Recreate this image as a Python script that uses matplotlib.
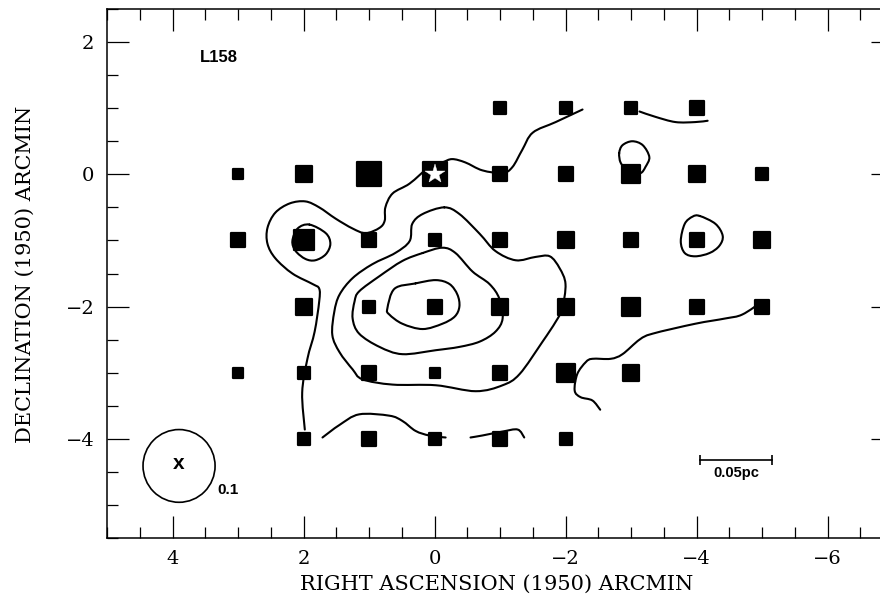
import matplotlib
matplotlib.use("Agg")
import matplotlib.pyplot as plt
from matplotlib.markers import MarkerStyle
from matplotlib.patches import Circle, PathPatch
from matplotlib.path import Path
from matplotlib.ticker import MultipleLocator

# ---------------- data ----------------
# observed positions (RA offset, Dec offset in arcmin) and relative strength (marker size)
ra_obs = [-1, -2, -3, -4,
          3, 2, 1, 0, -1, -2, -3, -4, -5,
          3, 2, 1, 0, -1, -2, -3, -4, -5,
          2, 1, 0, -1, -2, -3, -4, -5,
          3, 2, 1, 0, -1, -2, -3,
          2, 1, 0, -1, -2]
dec_obs = [1, 1, 1, 1,
           0, 0, 0, 0, 0, 0, 0, 0, 0,
           -1, -1, -1, -1, -1, -1, -1, -1, -1,
           -2, -2, -2, -2, -2, -2, -2, -2,
           -3, -3, -3, -3, -3, -3, -3,
           -4, -4, -4, -4, -4]
strength = [12, 13, 12, 14,
            11, 17, 24, 24, 15, 14, 19, 16, 13,
            15, 20, 15, 12, 15, 16, 15, 15, 17,
            17, 12, 14, 16, 17, 19, 14, 15,
            11, 13, 15, 11, 15, 19, 17,
            13, 15, 13, 15, 12]

star_ra, star_dec = [0.0], [0.0]

# contour polylines (RA, Dec)
contour_a_ra = [-2.26, -1.85, -1.50, -1.34, -1.19, -1.04, -0.73, -0.47, -0.27, -0.12, 0.08, 0.38, 0.64,
                0.75, 0.76, 0.84, 1.05, 1.25, 1.51, 1.76, 1.97, 2.21, 2.43, 2.55, 2.55, 2.43, 2.17,
                1.86, 1.76, 1.76, 1.83, 1.94, 2.02, 1.98]
contour_a_dec = [0.98, 0.79, 0.63, 0.37, 0.11, 0.02, 0.06, 0.18, 0.23, 0.18, 0.11, -0.14, -0.29,
                 -0.50, -0.70, -0.81, -0.89, -0.82, -0.67, -0.50, -0.41, -0.44, -0.58, -0.81, -1.05,
                 -1.27, -1.50, -1.66, -1.73, -1.92, -2.38, -2.79, -3.30, -3.86]
contour_b_ra = [1.91, 1.66, 1.59, 1.66, 1.82, 1.97, 2.12, 2.17, 2.09, 1.91]
contour_b_dec = [-0.76, -0.89, -1.05, -1.21, -1.30, -1.28, -1.16, -1.01, -0.82, -0.76]
contour_c_ra = [-0.15, -0.38, -0.69, -0.93, -1.24, -1.54, -1.76, -1.91, -2.00, -1.95, -1.85, -1.65,
                -1.30, -1.04, -0.63, -0.02, 0.64, 1.10, 1.25, 1.45, 1.56, 1.53, 1.45, 1.25, 0.95,
                0.60, 0.38, 0.34, 0.18, -0.15]
contour_c_dec = [-0.50, -0.60, -0.90, -1.16, -1.30, -1.25, -1.24, -1.42, -1.66, -2.03, -2.23, -2.53,
                 -3.02, -3.19, -3.28, -3.19, -3.18, -3.10, -2.95, -2.69, -2.43, -2.08, -1.82, -1.57,
                 -1.36, -1.19, -1.01, -0.75, -0.60, -0.50]
contour_d_ra = [0.18, -0.12, -0.32, -0.58, -0.84, -0.99, -1.04, -0.93, -0.69, -0.38, -0.02, 0.49,
                0.84, 1.15, 1.25, 1.22, 1.15, 0.84, 0.49, 0.18]
contour_d_dec = [-1.19, -1.11, -1.19, -1.47, -1.66, -1.88, -2.18, -2.38, -2.53, -2.61, -2.66, -2.72,
                 -2.61, -2.41, -2.18, -1.92, -1.77, -1.54, -1.31, -1.19]
contour_e_ra = [0.29, -0.02, -0.23, -0.35, -0.38, -0.31, -0.12, 0.18, 0.49, 0.69, 0.72, 0.61, 0.29]
contour_e_dec = [-1.65, -1.60, -1.66, -1.82, -2.00, -2.15, -2.26, -2.34, -2.26, -2.12, -2.03, -1.73, -1.65]
contour_f_ra = [-2.82, -2.87, -3.02, -3.18, -3.28, -3.22, -3.15, -3.03, -2.92, -2.84, -2.82]
contour_f_dec = [0.32, 0.44, 0.50, 0.44, 0.26, 0.11, 0.02, 0.03, 0.09, 0.18, 0.32]
contour_g_ra = [-3.13, -3.37, -3.68, -3.98, -4.17]
contour_g_dec = [0.95, 0.87, 0.79, 0.79, 0.81]
contour_h_ra = [-4.05, -4.29, -4.40, -4.35, -4.20, -3.98, -3.82, -3.76, -3.82, -3.94, -4.05]
contour_h_dec = [-0.63, -0.75, -0.93, -1.08, -1.19, -1.24, -1.19, -1.01, -0.75, -0.64, -0.63]
contour_i_ra = [-5.01, -4.70, -4.44, -3.98, -3.33, -3.13, -2.87, -2.69, -2.41, -2.31, -2.18, -2.14,
                -2.23, -2.41, -2.53]
contour_i_dec = [-1.92, -2.12, -2.18, -2.26, -2.41, -2.50, -2.72, -2.79, -2.79, -2.84, -3.02, -3.27,
                 -3.37, -3.42, -3.56]
contour_j_ra = [1.71, 1.45, 1.15, 0.69, 0.49, 0.29, 0.08, -0.17]
contour_j_dec = [-3.98, -3.79, -3.63, -3.65, -3.73, -3.88, -3.95, -3.98]
contour_k_ra = [-0.55, -0.73, -1.04, -1.27, -1.37]
contour_k_dec = [-3.98, -3.95, -3.89, -3.86, -3.98]

contours = [(contour_a_ra, contour_a_dec), (contour_b_ra, contour_b_dec),
            (contour_c_ra, contour_c_dec), (contour_d_ra, contour_d_dec),
            (contour_e_ra, contour_e_dec), (contour_f_ra, contour_f_dec),
            (contour_g_ra, contour_g_dec), (contour_h_ra, contour_h_dec),
            (contour_i_ra, contour_i_dec), (contour_j_ra, contour_j_dec),
            (contour_k_ra, contour_k_dec)]

beam_center = (3.9, -4.41)
beam_radius = 0.55
beam_label = "0.1"
scalebar_ra = [-4.05, -5.16]
scalebar_dec = -4.32
scalebar_label = "0.05pc"
source_name = "L158"

xticks = [4, 2, 0, -2, -4, -6]
yticks = [2, 0, -2, -4]

# ---------------- figure ----------------
DPI = 100
fig = plt.figure(figsize=(8.8, 5.95), dpi=DPI)
ax = fig.add_axes([107 / 880, 57 / 595, 786 / 880, 529 / 595])
ax.set_xlim(5, -7)
ax.set_ylim(-5.5, 2.5)

serif = "DejaVu Serif"
sans = "Liberation Sans"


def smooth_path(xs, ys):
    """Catmull-Rom curve through the read points, drawn as Bezier path."""
    pts = list(zip(xs, ys))
    closed = pts[0] == pts[-1]
    n = len(pts)
    verts = [pts[0]]
    codes = [Path.MOVETO]
    for i in range(n - 1):
        p1, p2 = pts[i], pts[i + 1]
        if i > 0:
            p0 = pts[i - 1]
        else:
            p0 = pts[-2] if closed else p1
        if i + 2 < n:
            p3 = pts[i + 2]
        else:
            p3 = pts[1] if closed else p2
        c1 = (p1[0] + (p2[0] - p0[0]) / 6, p1[1] + (p2[1] - p0[1]) / 6)
        c2 = (p2[0] - (p3[0] - p1[0]) / 6, p2[1] - (p3[1] - p1[1]) / 6)
        verts += [c1, c2, p2]
        codes += [Path.CURVE4] * 3
    return Path(verts, codes)


for xs, ys in contours:
    ax.add_patch(PathPatch(smooth_path(xs, ys), facecolor="none", edgecolor="black",
                           lw=1.5, joinstyle="round", capstyle="round", zorder=2))

sq = MarkerStyle("s", joinstyle="round")
mew = 1.6
for x, y, s in zip(ra_obs, dec_obs, strength):
    ms = (s + 1.5) * 72 / DPI - mew
    ax.plot([x], [y], linestyle="none", marker=sq, markersize=ms,
            markerfacecolor="black", markeredgecolor="black", markeredgewidth=mew, zorder=3)

ax.plot(star_ra, star_dec, linestyle="none", marker="*", markersize=15,
        markerfacecolor="white", markeredgecolor="white", markeredgewidth=0.3, zorder=4)

# beam
ax.add_patch(Circle(beam_center, beam_radius, fill=False, edgecolor="black", lw=1.2, zorder=2))
ax.text(beam_center[0], beam_center[1] + 0.03, "x", ha="center", va="center",
        fontsize=15, fontweight="bold", family=sans)
ax.text(3.32, -4.77, beam_label, ha="left", va="center", fontsize=11, fontweight="bold",
        family=sans)

# scale bar
ax.plot(scalebar_ra, [scalebar_dec, scalebar_dec], color="black", lw=1.2,
        marker="|", markersize=7.5, markeredgewidth=1.2)
ax.text(sum(scalebar_ra) / 2, scalebar_dec - 0.19, scalebar_label, ha="center", va="center",
        fontsize=10.5, fontweight="bold", family=sans)

ax.text(3.58, 1.77, source_name, ha="left", va="center", fontsize=12, fontweight="bold",
        family=sans)

# axes styling
ax.set_xticks(xticks)
ax.set_yticks(yticks)
ax.xaxis.set_minor_locator(MultipleLocator(0.5))
ax.yaxis.set_minor_locator(MultipleLocator(0.5))
ax.tick_params(which="both", direction="in", top=True, right=True, width=0.9, color="black")
ax.tick_params(which="major", length=15.8, labelsize=14, pad=9)
ax.tick_params(which="minor", length=7.9)
for lab in ax.get_xticklabels() + ax.get_yticklabels():
    lab.set_family(serif)
for sp in ax.spines.values():
    sp.set_linewidth(1.1)

fig.text(497 / 880, 1 - 584 / 595, "RIGHT ASCENSION (1950) ARCMIN", ha="center", va="center",
         fontsize=15, family=serif)
fig.text(25 / 880, 1 - 274 / 595, "DECLINATION (1950) ARCMIN", ha="center", va="center",
         rotation=90, fontsize=15, family=serif)

fig.savefig("out.png", dpi=DPI, facecolor="white")
